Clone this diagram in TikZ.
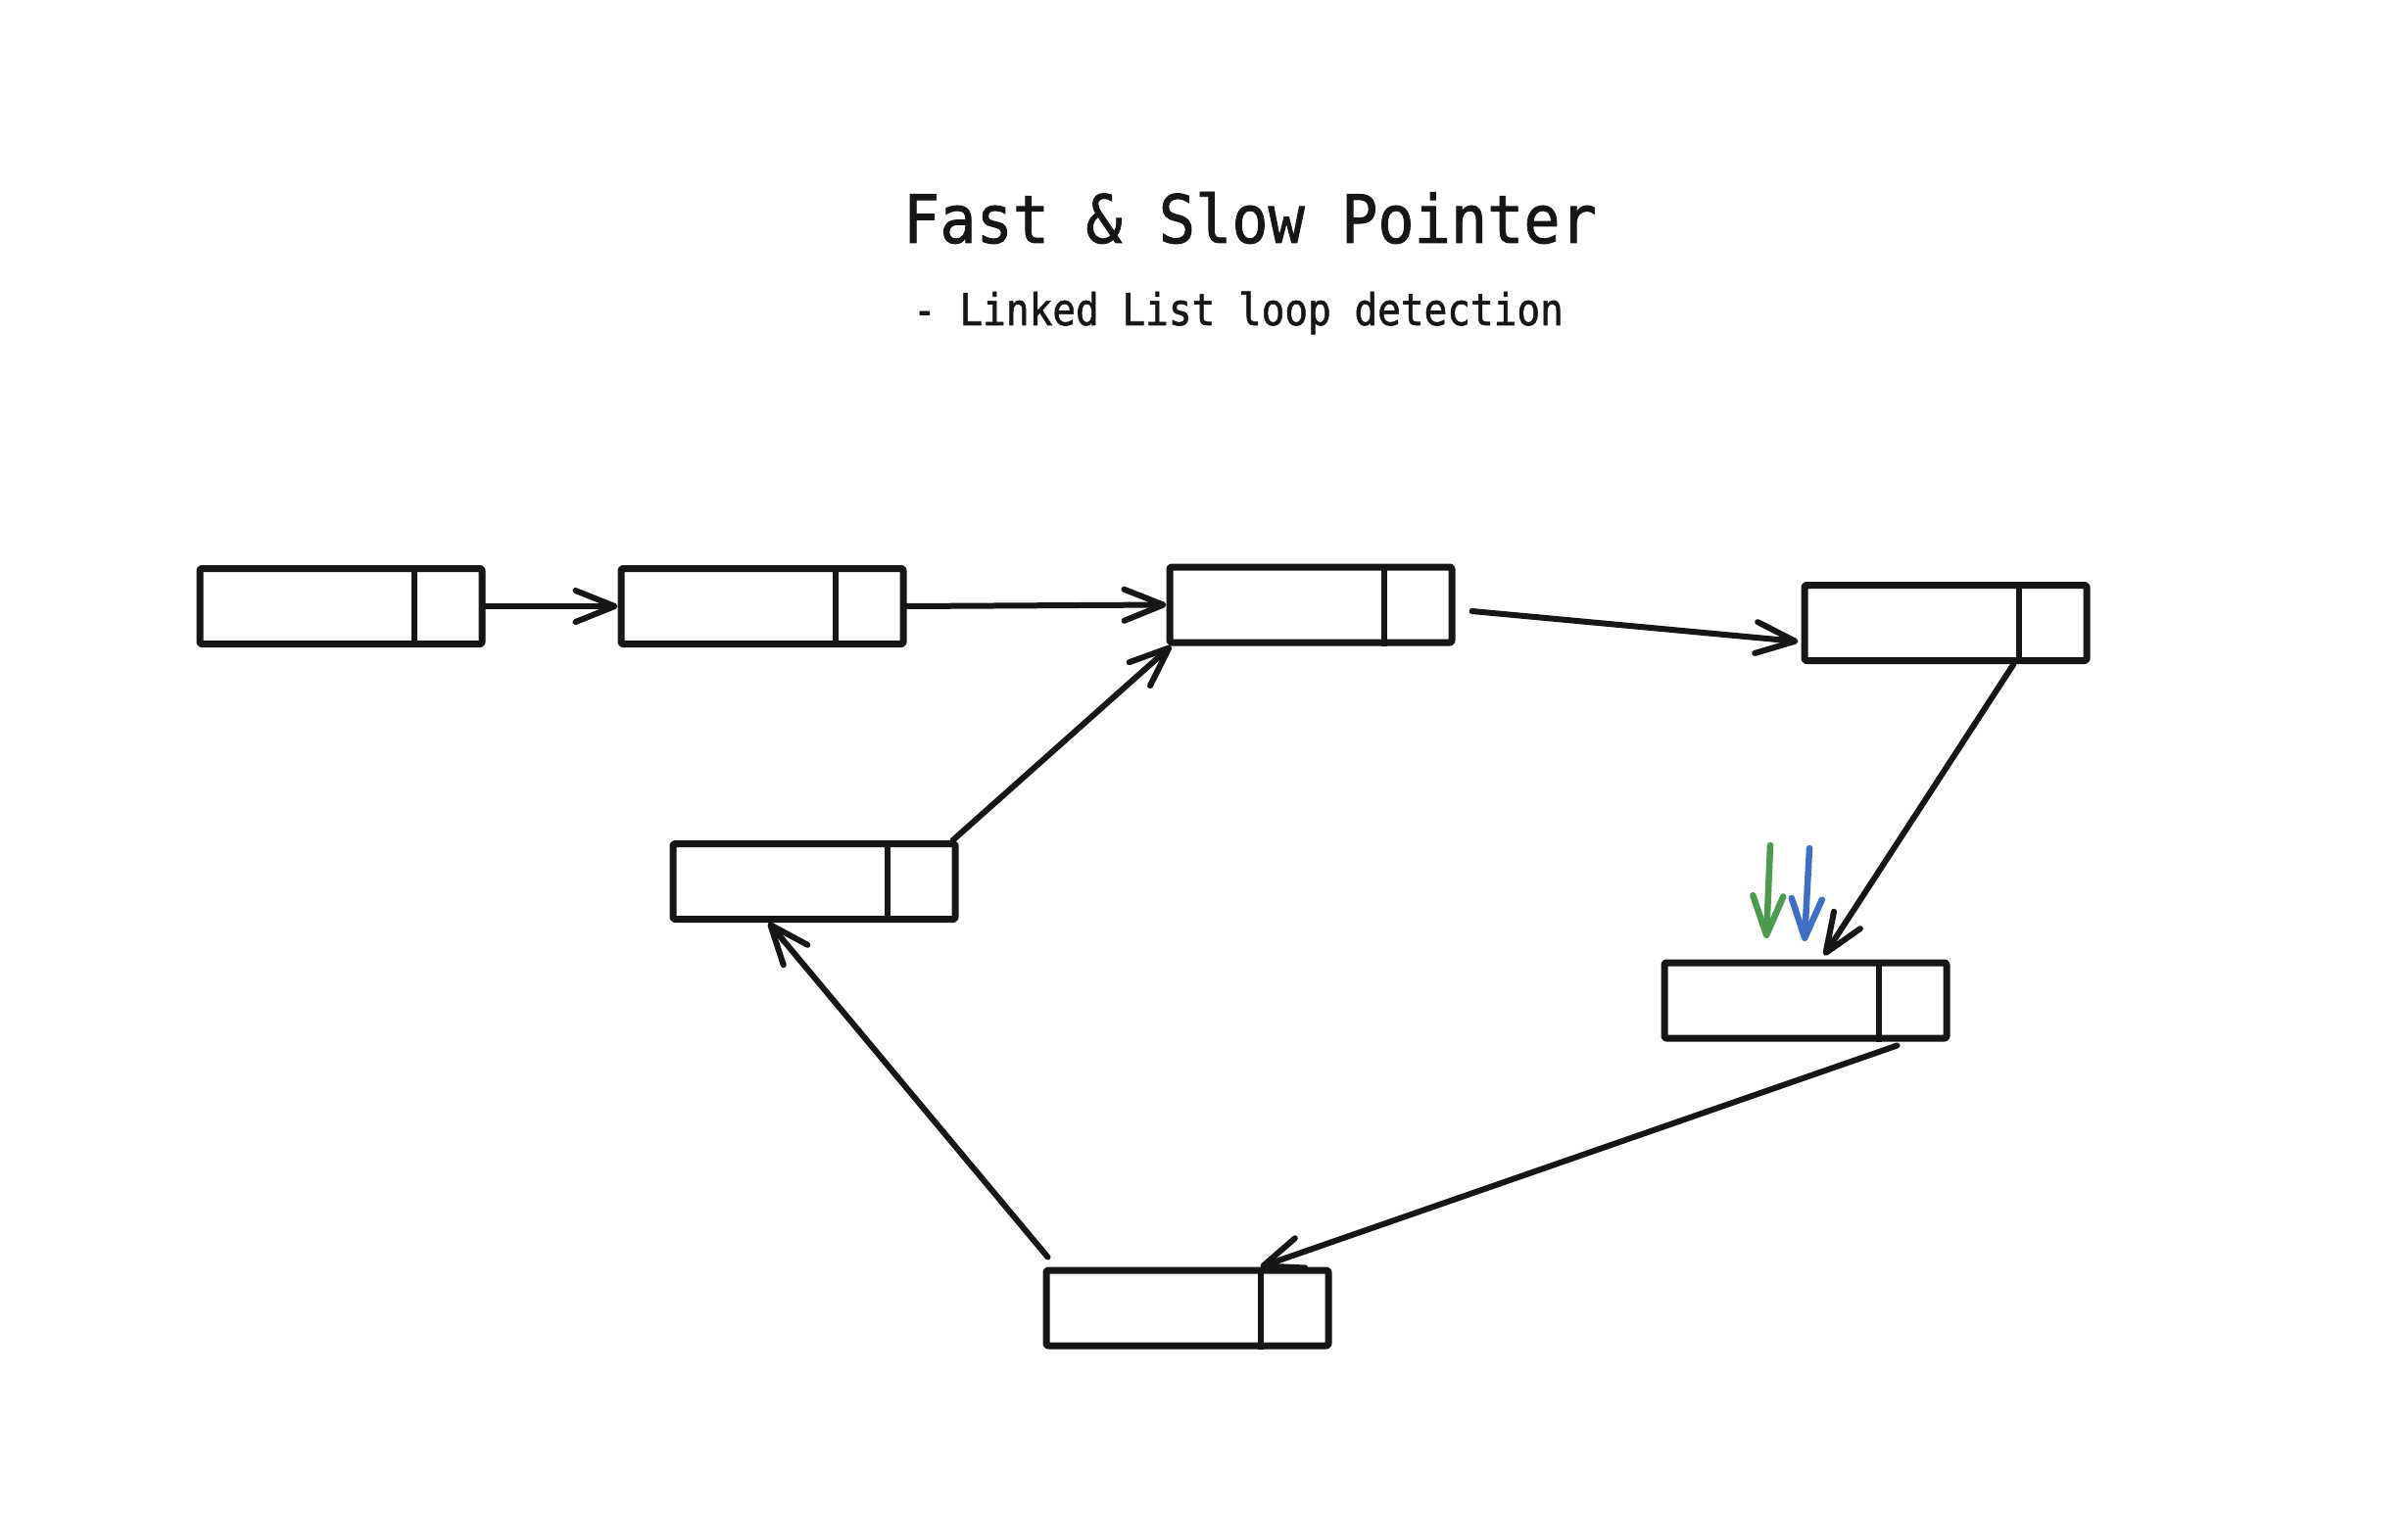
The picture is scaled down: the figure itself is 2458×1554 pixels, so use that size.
\documentclass[tikz,border=0pt]{standalone}
\usepackage{fontspec}
\usepackage{graphicx}
\usetikzlibrary{arrows.meta,calc}
\newfontfamily\sketchfont[FakeBold=1.3]{DejaVu Sans Mono}
\definecolor{ink}{RGB}{22,22,22}
\definecolor{fastgreen}{RGB}{76,154,78}
\definecolor{slowblue}{RGB}{62,111,196}
\tikzset{
  listbox/.style={draw=ink, line width=7pt, rounded corners=2pt, minimum width=288pt, minimum height=77pt, inner sep=0pt, line join=round},
  divider/.style={draw=ink, line width=6pt},
  link/.style={draw=ink, line width=6pt, line cap=round, -{Straight Barb[length=40pt,width=32pt,round]}},
  ptr/.style={line width=6.5pt, line cap=round, -{Straight Barb[length=40pt,width=31pt,round]}},
  titletext/.style={text=ink, inner sep=0pt, anchor=base}
}
\begin{document}
\begin{tikzpicture}[x=1pt,y=-1pt]
\useasboundingbox (0,0) rectangle (2458,1554);
\fill[white] (0,0) rectangle (2458,1554);

\node[titletext] (title) at (1276,248) {\sketchfont\fontsize{68}{80}\selectfont\scalebox{0.91}[1]{Fast \& Slow Pointer}};
\node[titletext] (subtitle) at (1264,332) {\sketchfont\fontsize{45}{54}\selectfont\scalebox{0.875}[1]{- Linked List loop detection}};

\node[listbox] (b1) at (348,619) {};
\node[listbox] (b2) at (778,619) {};
\node[listbox] (b3) at (1338,617.5) {};
\node[listbox] (b4) at (1986,636) {};
\node[listbox] (b5) at (1843,1021.5) {};
\node[listbox] (b6) at (1212,1335.5) {};
\node[listbox] (b7) at (831,900) {};

\foreach \b in {b1,b2,b3,b4,b5,b6,b7}{
  \draw[divider] ($(\b.north east)+(-73,0)$) -- ($(\b.south east)+(-73,0)$);
}

\coordinate (s3) at ($(b3.east)+(17,6.5)$);
\coordinate (e4) at ($(b4.west)+(-3,19)$);
\coordinate (s4) at ($(b4.south east)+(-78,0)$);
\coordinate (e5) at ($(b5.north)+(19,-4)$);
\coordinate (s5) at ($(b5.south east)+(-54,4)$);
\coordinate (e6) at ($(b6.north east)+(-73,0)$);
\coordinate (s6) at ($(b6.north west)+(5,-10)$);
\coordinate (e7) at ($(b7.south west)+(101,0)$);
\coordinate (s7) at ($(b7.north east)+(-6,0)$);
\coordinate (e3) at ($(b3.south west)+(5,0)$);

\draw[link] (b1.east) -- (b2.west);
\draw[link] (b2.east) -- (b3.west);
\draw[link] (s3) -- (e4);
\draw[link] (s4) -- (e5);
\draw[link] (s5) -- (e6);
\draw[link] (s6) -- (e7);
\draw[link] (s7) -- (e3);

\coordinate (g1) at (1807,863);
\coordinate (g2) at (1803,958);
\coordinate (u1) at (1847,866);
\coordinate (u2) at (1842,961);
\draw[ptr, draw=fastgreen] (g1) -- (g2);
\draw[ptr, draw=slowblue] (u1) -- (u2);
\end{tikzpicture}
\end{document}
